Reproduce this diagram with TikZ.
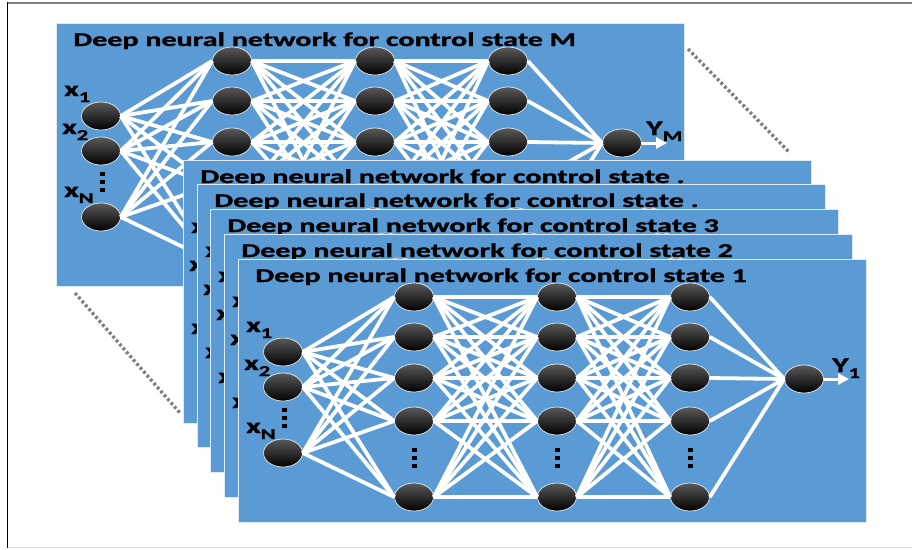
\documentclass[tikz,border=0pt]{standalone}
\usepackage{fontspec}
\setmainfont{Carlito}[BoldFeatures={FakeBold=1.2}]
\usetikzlibrary{shapes.geometric,arrows.meta}
\definecolor{panelblue}{HTML}{5B9BD5}
\definecolor{framegray}{HTML}{7F7F7F}
\definecolor{lightframe}{HTML}{D9D9D9}
\tikzset{
  panelbox/.style={fill=panelblue,draw=white!80!panelblue,line width=0.8pt},
  neuron/.style={ellipse,minimum width=39pt,minimum height=28pt,inner sep=0pt,
     draw=white!85!gray,line width=0.7pt,top color=black!65,middle color=black,bottom color=black},
  wire/.style={white,line width=3.8pt},
  titletext/.style={anchor=base west,inner sep=0pt,xscale=1.54,font=\fontsize{19.5}{19.5}\selectfont\bfseries},
  lbltext/.style={anchor=base west,inner sep=0pt,xscale=1.5,font=\fontsize{21}{21}\selectfont\bfseries},
  perspective/.style={framegray,line width=3.4pt,dash pattern=on 2.8pt off 2.4pt},
}
\newcommand\subl[1]{\raisebox{-6pt}{\fontsize{15}{15}\selectfont #1}}
\newcommand\dnnpanel[4]{%
\begin{scope}[shift={(#1,#2)}]
  \draw[panelbox] (0,0) rectangle (628,263.5);
  \node[titletext] (#4-title) at (17,23) {Deep neural network for control state #3};
  \node[neuron] (#4-i1) at (45,93) {};
  \node[neuron] (#4-i2) at (45,128) {};
  \node[neuron] (#4-i3) at (45,194) {};
  \foreach \l/\xx in {1/176,2/319,3/452}{
    \foreach \n/\yy in {1/38,2/78,3/119,4/162,5/238}{
      \node[neuron] (#4-h\l-\n) at (\xx,\yy) {};
    }
    \foreach \dy in {-8,0,8}{\fill[black] (\xx-2.5,199+\dy-2) rectangle (\xx+2.5,199+\dy+2);}
  }
  \foreach \dy in {-8,0,8}{\fill[black] (43.5,159+\dy-2) rectangle (48.5,159+\dy+2);}
  \node[neuron] (#4-o) at (566,120) {};
  \coordinate (#4-yend) at (611,120);
  \foreach \i in {1,2,3}{\foreach \n in {1,...,5}{\draw[wire] (#4-i\i.east) -- (#4-h1-\n.west);}}
  \foreach \m in {1,...,5}{\foreach \n in {1,...,5}{
     \draw[wire] (#4-h1-\m.east) -- (#4-h2-\n.west);
     \draw[wire] (#4-h2-\m.east) -- (#4-h3-\n.west);}}
  \foreach \m in {1,...,5}{\draw[wire] (#4-h3-\m.east) -- (#4-o.west);}
  \draw[wire,line width=3pt,-{Triangle[length=11pt,width=11pt]}] (#4-o.east) -- (#4-yend);
  \node[lbltext] (#4-x1) at (8,73) {x\subl{1}};
  \node[lbltext] (#4-x2) at (6,111) {x\subl{2}};
  \node[lbltext] (#4-xN) at (8,174) {x\subl{N}};
\end{scope}}
\begin{document}
\begin{tikzpicture}[x=1pt,y=-1pt]
  \useasboundingbox (0,0) rectangle (912,549);
  \fill[white] (0,0) rectangle (912,549);
  % frame
  \coordinate (ftl) at (7,2.5);
  \coordinate (ftr) at (912,2.5);
  \coordinate (fbl) at (7,547.5);
  \coordinate (fbr) at (912,547.5);
  \draw[framegray,line width=2pt] (ftl) -- (ftr);
  \draw[lightframe,line width=1.5pt] (fbl) -- (fbr);
  \draw[black,line width=1.2pt] (7.5,2) -- (7.5,548);
  % perspective dotted lines
  \coordinate (pa1) at (688,49);
  \coordinate (pa2) at (789,152);
  \coordinate (pb1) at (75,293);
  \coordinate (pb2) at (180,413);
  \draw[perspective] (pa1) -- (pa2);
  \draw[perspective] (pb1) -- (pb2);
  % panels back to front
  \dnnpanel{56}{23}{M}{pM}
  \node[lbltext] (yM) at (646,135) {Y\subl{M}};
  \dnnpanel{183}{160}{.}{p5}
  \dnnpanel{197}{184}{.}{p4}
  \dnnpanel{210}{209}{3}{p3}
  \dnnpanel{224}{234}{2}{p2}
  \dnnpanel{238}{259}{1}{p1}
  \node[lbltext] (y1) at (832,372) {Y\subl{1}};
\end{tikzpicture}
\end{document}
